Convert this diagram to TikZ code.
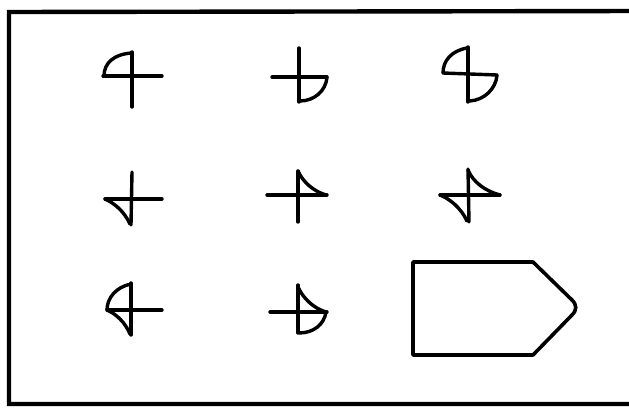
\documentclass[tikz,border=0pt]{standalone}
\begin{document}
\begin{tikzpicture}[x=1pt,y=-1pt,
  glyph/.style={line width=3.4pt,line cap=round,line join=round},
  frame/.style={line width=4.4pt,line join=miter}]
\useasboundingbox (0,0) rectangle (629,410);
% frame (open on the right)
\draw[frame] (640,11) -- (9,12) -- (9,404) -- (640,404);
% glyph 1
\draw[glyph] (132,52) -- (132,107);
\draw[glyph] (103,76) -- (162,76);
\draw[glyph] (132,53) .. controls (114,54) and (104,63) .. (104,76);
% glyph 2
\draw[glyph] (299,48) -- (299,102);
\draw[glyph] (272,77) -- (327,77);
\draw[glyph] (327,77) .. controls (326,91) and (314,101) .. (300,101);
% glyph 3
\draw[glyph] (468,47) -- (468,102);
\draw[glyph] (443,73) -- (497,75);
\draw[glyph] (467,48) .. controls (451,51) and (443,61) .. (443,73);
\draw[glyph] (497,75) .. controls (496,89) and (484,100) .. (470,101);
% glyph 4
\draw[glyph] (132,172) -- (131,225);
\draw[glyph] (105,199) -- (162,199);
\draw[glyph] (105,199) .. controls (114,203) and (124,211) .. (130,224);
% glyph 5
\draw[glyph] (298,171) -- (298,222);
\draw[glyph] (267,195) -- (327,195);
\draw[glyph] (298,171) .. controls (303,182) and (313,191) .. (326,195);
% glyph 6
\draw[glyph] (468,169) -- (469,222);
\draw[glyph] (440,195) -- (500,195);
\draw[glyph] (468,170) .. controls (473,182) and (485,191) .. (500,195);
\draw[glyph] (440,195) .. controls (450,199) and (461,208) .. (467,221);
% glyph 7
\draw[glyph] (131,283) -- (131,335);
\draw[glyph] (107,310) -- (162,310);
\draw[glyph] (131,284) .. controls (116,287) and (107,298) .. (107,310);
\draw[glyph] (107,310) .. controls (116,314) and (125,322) .. (130,334);
% glyph 8
\draw[glyph] (298,285) -- (298,333);
\draw[glyph] (270,312) -- (327,312);
\draw[glyph] (298,287) .. controls (303,298) and (313,308) .. (326,312);
\draw[glyph] (326,312) .. controls (324,325) and (313,333) .. (299,333);
% pentagon
\draw[line width=3.6pt,line join=round] (413,262) -- (533,262) -- (572,300)
  .. controls (577,305) and (577,310) .. (572,315) -- (533,355) -- (413,355) -- cycle;
\end{tikzpicture}
\end{document}
